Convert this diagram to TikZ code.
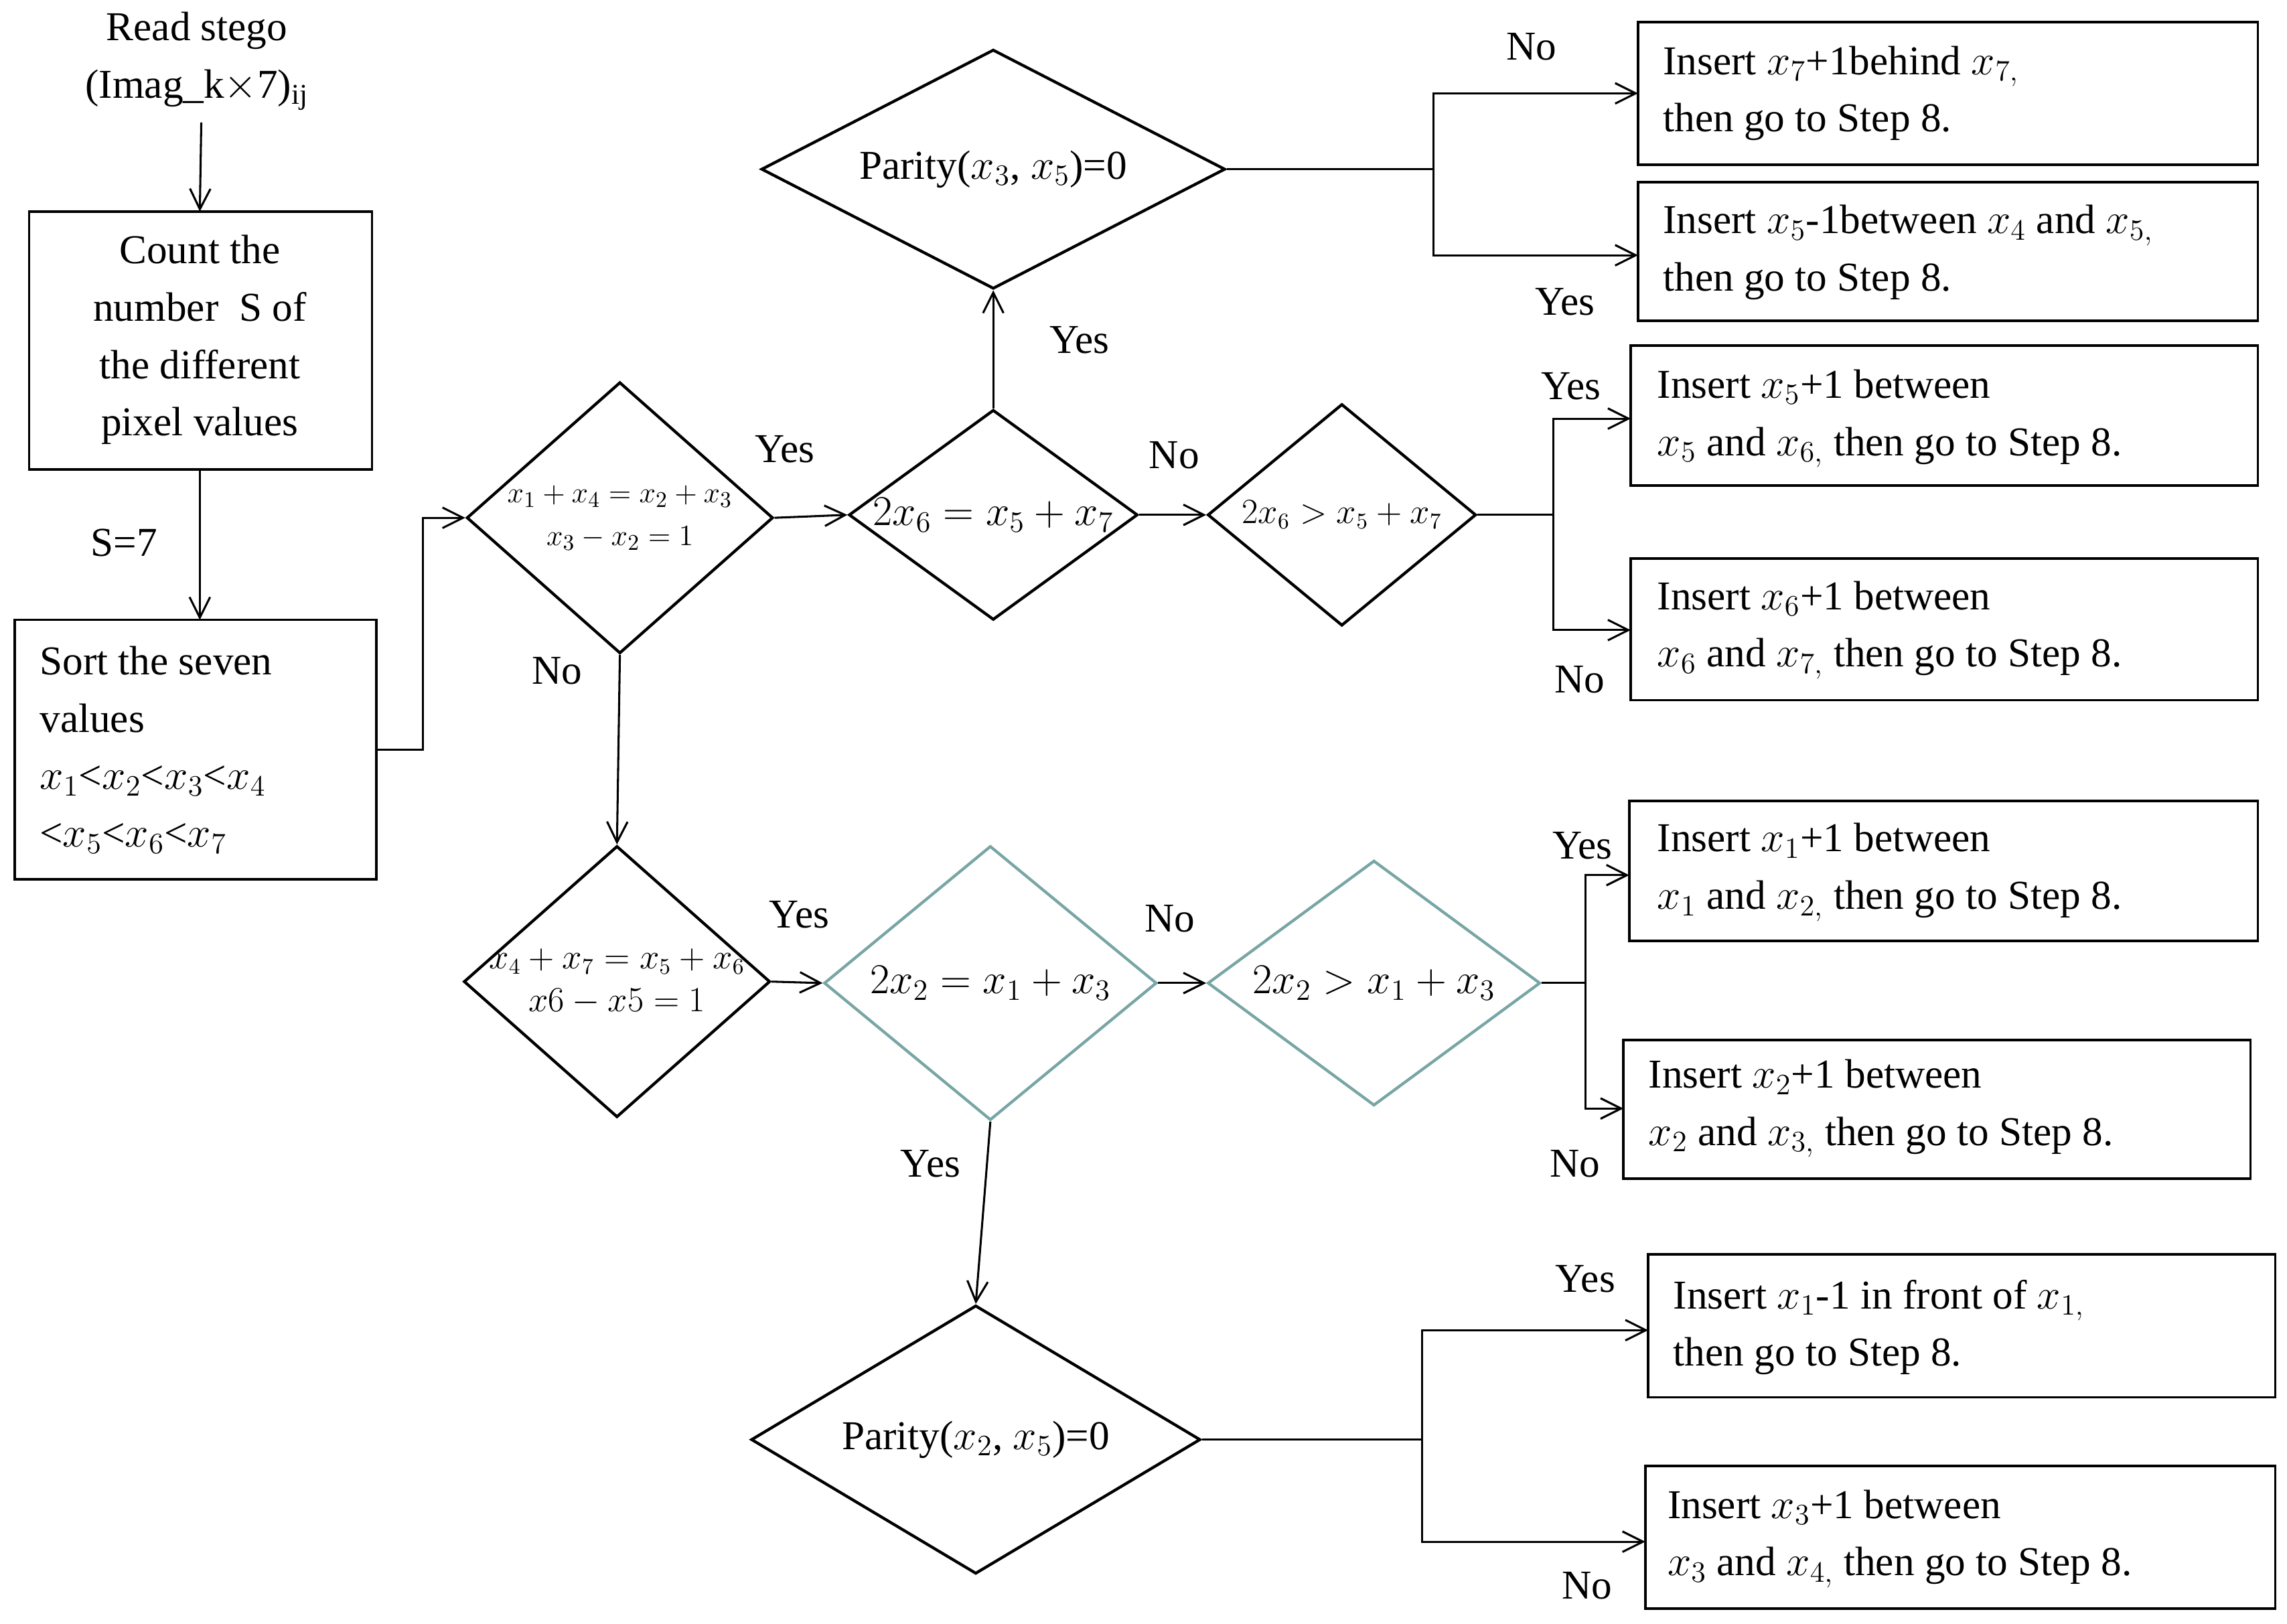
\documentclass[tikz,border=0pt]{standalone}
\usepackage{fontspec}
\setmainfont{Liberation Serif}
\usetikzlibrary{shapes.geometric,arrows.meta}
\definecolor{teal1}{RGB}{120,165,165}
\begin{document}
\begin{tikzpicture}[x=0.025cm,y=-0.025cm,
  every node/.style={font=\fontsize{20}{28}\selectfont},
  dia/.style={draw,line width=1.4pt,diamond,inner sep=0pt},
  lbl/.style={inner sep=0pt},
  ar/.style={-{Straight Barb[length=10pt,width=10pt]},line width=1pt},
  ln/.style={line width=1pt}]
\useasboundingbox (0,0) rectangle (1568,1113);
\node[lbl,align=center] (read) at (135,42) {Read stego\\(Imag\_k$\times$7)$_{\mathrm{ij}}$};
\draw[line width=1.2pt] (20,145) rectangle (255,322);
\node[lbl,align=center] (count) at (137,233) {Count the\\number \ S of\\the different\\pixel values};
\coordinate (countT) at (137,145); \coordinate (countB) at (137,322);
\draw[line width=1.2pt] (10,425) rectangle (258,603);
\node[lbl,align=left,anchor=west] (sort) at (27,514) {Sort the seven\\values\\$x_1$<$x_2$<$x_3$<$x_4$\\<$x_5$<$x_6$<$x_7$};
\coordinate (sortT) at (137,425); \coordinate (sortR) at (258,514);

\node[dia,minimum width=5.25cm,minimum height=4.65cm,aspect=1.13] (d1) at (425,355) {};
\node[lbl,font=\fontsize{15}{21}\selectfont,align=center] at (425,355) {$x_1+x_4=x_2+x_3$\\$x_3-x_2=1$};
\node[dia,minimum width=4.95cm,minimum height=3.6cm,aspect=1.37] (d2) at (681,353) {};
\node[lbl,font=\fontsize{21}{24}\selectfont] at (681,353) {$2x_6=x_5+x_7$};
\node[dia,minimum width=4.6cm,minimum height=3.8cm,aspect=1.21] (d3) at (920,353) {};
\node[lbl,font=\fontsize{16}{20}\selectfont] at (920,353) {$2x_6>x_5+x_7$};
\node[dia,minimum width=7.95cm,minimum height=4.1cm,aspect=1.93] (p1) at (681,116) {};
\node[lbl] at (681,116) {Parity($x_3$, $x_5$)=0};
\node[dia,minimum width=5.25cm,minimum height=4.65cm,aspect=1.13] (d4) at (423,673) {};
\node[lbl,font=\fontsize{16}{21}\selectfont,align=center] at (423,673) {$x_4+x_7=x_5+x_6$\\$x6-x5=1$};
\node[dia,draw=teal1,minimum width=5.7cm,minimum height=4.7cm,aspect=1.21] (d5) at (679,674) {};
\node[lbl,font=\fontsize{22}{24}\selectfont] at (679,674) {$2x_2=x_1+x_3$};
\node[dia,draw=teal1,minimum width=5.7cm,minimum height=4.2cm,aspect=1.35] (d6) at (942,674) {};
\node[lbl,font=\fontsize{22}{24}\selectfont] at (942,674) {$2x_2>x_1+x_3$};
\node[dia,minimum width=7.7cm,minimum height=4.6cm,aspect=1.67] (p2) at (669,987) {};
\node[lbl] at (669,987) {Parity($x_2$, $x_5$)=0};

\draw[line width=1.2pt] (1123,15) rectangle (1548,113);
\node[lbl,anchor=west,align=left] (b1) at (1140,64) {Insert $x_7$+1behind $x_{7,}$\\then go to Step 8.};
\draw[line width=1.2pt] (1123,125) rectangle (1548,220);
\node[lbl,anchor=west,align=left] (b2) at (1140,173) {Insert $x_5$-1between $x_4$ and $x_{5,}$\\then go to Step 8.};
\draw[line width=1.2pt] (1118,237) rectangle (1548,333);
\node[lbl,anchor=west,align=left] (b3) at (1136,287) {Insert $x_5$+1 between\\$x_5$ and $x_{6,}$ then go to Step 8.};
\draw[line width=1.2pt] (1118,383) rectangle (1548,480);
\node[lbl,anchor=west,align=left] (b4) at (1136,432) {Insert $x_6$+1 between\\$x_6$ and $x_{7,}$ then go to Step 8.};
\draw[line width=1.2pt] (1117,549) rectangle (1548,645);
\node[lbl,anchor=west,align=left] (b5) at (1136,598) {Insert $x_1$+1 between\\$x_1$ and $x_{2,}$ then go to Step 8.};
\draw[line width=1.2pt] (1113,713) rectangle (1543,808);
\node[lbl,anchor=west,align=left] (b6) at (1130,760) {Insert $x_2$+1 between\\$x_2$ and $x_{3,}$ then go to Step 8.};
\draw[line width=1.2pt] (1130,860) rectangle (1560,958);
\node[lbl,anchor=west,align=left] (b7) at (1147,910) {Insert $x_1$-1 in front of $x_{1,}$\\then go to Step 8.};
\draw[line width=1.2pt] (1128,1005) rectangle (1560,1103);
\node[lbl,anchor=west,align=left] (b8) at (1143,1055) {Insert $x_3$+1 between\\$x_3$ and $x_{4,}$ then go to Step 8.};

\coordinate (b1w) at (1123,64); \coordinate (b2w) at (1123,175);
\coordinate (b3w) at (1118,287); \coordinate (b4w) at (1118,432);
\coordinate (b5w) at (1117,600); \coordinate (b6w) at (1113,760);
\coordinate (b7w) at (1130,912); \coordinate (b8w) at (1128,1057);

\draw[ar] (read.south) ++(3,8) -- (countT);
\draw[ar] (countB) -- (sortT);
\node[lbl] at (85,372) {S=7};
\draw[ar] (sortR) -- (290,514) -- (290,355) -- (d1.west);
\draw[ar] (d1.east) -- (d2.west); \node[lbl] at (538,308) {Yes};
\draw[ar] (d1.south) -- (d4.north); \node[lbl] at (382,460) {No};
\draw[ar] (d2.north) -- (p1.south); \node[lbl] at (740,233) {Yes};
\draw[ar] (d2.east) -- (d3.west); \node[lbl] at (805,312) {No};
\draw[ln] (d3.east) -- (1065,353);
\draw[ar] (1065,353) |- (b3w); \draw[ar] (1065,353) |- (b4w);
\node[lbl] at (1077,265) {Yes}; \node[lbl] at (1083,466) {No};
\draw[ln] (p1.east) -- (983,116);
\draw[ar] (983,116) |- (b1w); \draw[ar] (983,116) |- (b2w);
\node[lbl] at (1050,32) {No}; \node[lbl] at (1073,207) {Yes};
\draw[ar] (d4.east) -- (d5.west); \node[lbl] at (548,627) {Yes};
\draw[ar] (d5.east) -- (d6.west); \node[lbl] at (802,630) {No};
\draw[ln] (d6.east) -- (1087,674);
\draw[ar] (1087,674) |- (b5w); \draw[ar] (1087,674) |- (b6w);
\node[lbl] at (1085,580) {Yes}; \node[lbl] at (1080,798) {No};
\draw[ar] (d5.south) -- (p2.north); \node[lbl] at (638,798) {Yes};
\draw[ln] (p2.east) -- (975,987);
\draw[ar] (975,987) |- (b7w); \draw[ar] (975,987) |- (b8w);
\node[lbl] at (1087,877) {Yes}; \node[lbl] at (1088,1087) {No};
\end{tikzpicture}
\end{document}
